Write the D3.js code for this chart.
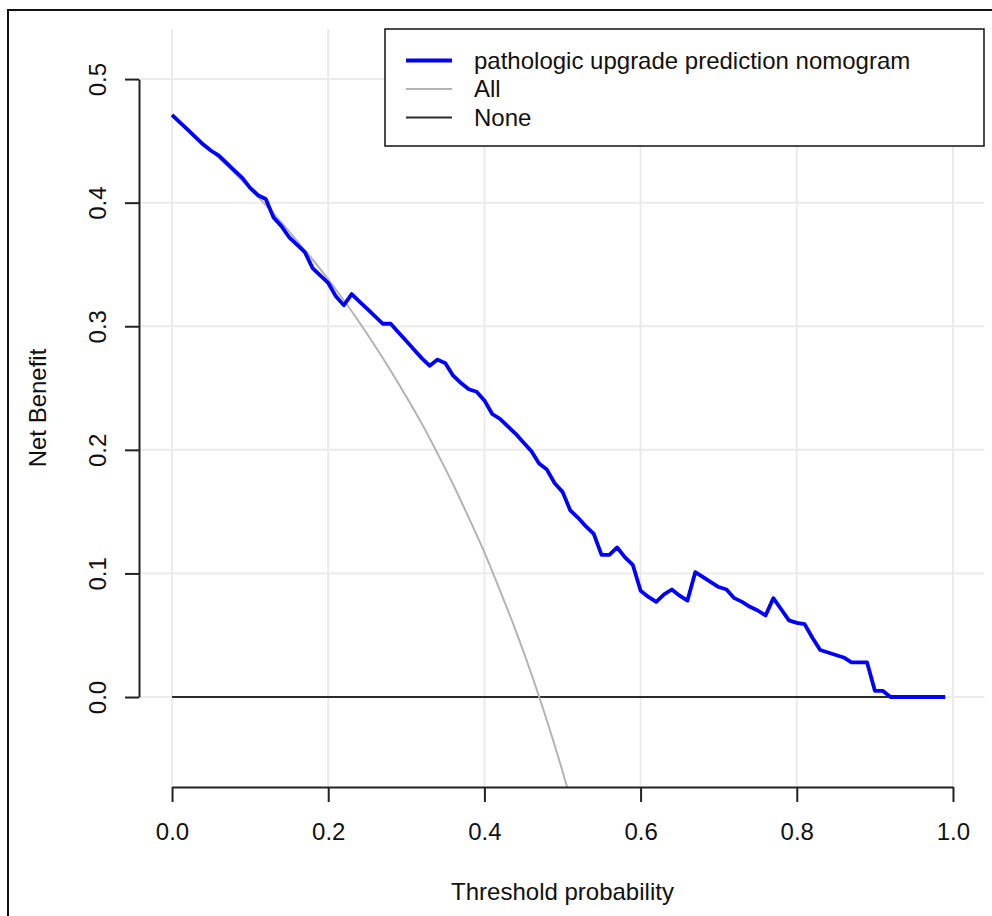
<!DOCTYPE html>
<html lang="en">
<head>
  <meta charset="UTF-8" />
  <title>Decision Curve</title>
  <script src="https://d3js.org/d3.v7.min.js"></script>
  <style>
    body {
      margin: 0;
      padding: 0;
      background: #fff;
    }

    svg text {
      font-family: "Liberation Sans", Arial, sans-serif;
      fill: #111;
    }

    .grid line {
      stroke: #ebebeb;
      stroke-width: 2px;
    }
  </style>
</head>
<body>
  <svg width="992" height="916"></svg>

  <script>
    // threshold probabilities (0.00 .. 0.99)
    const thresholds = [
      0.00, 0.01, 0.02, 0.03, 0.04, 0.05, 0.06, 0.07, 0.08, 0.09,
      0.10, 0.11, 0.12, 0.13, 0.14, 0.15, 0.16, 0.17, 0.18, 0.19,
      0.20, 0.21, 0.22, 0.23, 0.24, 0.25, 0.26, 0.27, 0.28, 0.29,
      0.30, 0.31, 0.32, 0.33, 0.34, 0.35, 0.36, 0.37, 0.38, 0.39,
      0.40, 0.41, 0.42, 0.43, 0.44, 0.45, 0.46, 0.47, 0.48, 0.49,
      0.50, 0.51, 0.52, 0.53, 0.54, 0.55, 0.56, 0.57, 0.58, 0.59,
      0.60, 0.61, 0.62, 0.63, 0.64, 0.65, 0.66, 0.67, 0.68, 0.69,
      0.70, 0.71, 0.72, 0.73, 0.74, 0.75, 0.76, 0.77, 0.78, 0.79,
      0.80, 0.81, 0.82, 0.83, 0.84, 0.85, 0.86, 0.87, 0.88, 0.89,
      0.90, 0.91, 0.92, 0.93, 0.94, 0.95, 0.96, 0.97, 0.98, 0.99
    ];

    // net benefit of the nomogram
    const nomogramNB = [
      0.471, 0.465, 0.459, 0.453, 0.447, 0.442, 0.438, 0.432, 0.426, 0.420,
      0.412, 0.406, 0.403, 0.388, 0.381, 0.372, 0.366, 0.360, 0.347, 0.341,
      0.335, 0.324, 0.317, 0.326, 0.320, 0.314, 0.308, 0.302, 0.302, 0.295,
      0.288, 0.281, 0.274, 0.268, 0.273, 0.270, 0.260, 0.254, 0.249, 0.247,
      0.240, 0.229, 0.225, 0.219, 0.213, 0.206, 0.199, 0.189, 0.184, 0.173,
      0.166, 0.151, 0.145, 0.138, 0.132, 0.115, 0.115, 0.121, 0.113, 0.107,
      0.086, 0.081, 0.077, 0.083, 0.087, 0.082, 0.078, 0.101, 0.097, 0.093,
      0.089, 0.087, 0.080, 0.077, 0.073, 0.070, 0.066, 0.080, 0.071, 0.062,
      0.060, 0.059, 0.048, 0.038, 0.036, 0.034, 0.032, 0.028, 0.028, 0.028,
      0.005, 0.005, 0.000, 0.000, 0.000, 0.000, 0.000, 0.000, 0.000, 0.000
    ];

    // "treat all" curve
    const allThresholds = [
      0.00, 0.02, 0.04, 0.06, 0.08, 0.10, 0.12, 0.14, 0.16, 0.18,
      0.20, 0.22, 0.24, 0.26, 0.28, 0.30, 0.32, 0.34, 0.36, 0.38,
      0.40, 0.42, 0.44, 0.46, 0.48, 0.50, 0.52
    ];
    const allNB = [
      0.470, 0.459, 0.448, 0.436, 0.424, 0.411, 0.398, 0.384, 0.369, 0.354,
      0.338, 0.321, 0.303, 0.284, 0.264, 0.243, 0.221, 0.197, 0.172, 0.145,
      0.117, 0.086, 0.054, 0.019, -0.019, -0.060, -0.104
    ];

    const xTicks = [0, 0.2, 0.4, 0.6, 0.8, 1.0];
    const yTicks = [0, 0.1, 0.2, 0.3, 0.4, 0.5];
    const legendLabels = ["pathologic upgrade prediction nomogram", "All", "None"];
    const legendColors = ["#0000ff", "#b3b3b3", "#2b2b2b"];
    const legendWidths = [3.8, 2, 2];

    const svg = d3.select("svg");

    // plot region (R-style 4% padding around the data range)
    const x = d3.scaleLinear().domain([-0.04, 1.04]).range([140.8, 984.2]);
    const y = d3.scaleLinear().domain([-0.0728, 0.5405]).range([787, 29]);

    // outer frame (open at right / bottom)
    svg.append("rect")
      .attr("x", 8).attr("y", 10)
      .attr("width", 1100).attr("height", 1000)
      .attr("fill", "none")
      .attr("stroke", "#111")
      .attr("stroke-width", 2);

    // grid
    const grid = svg.append("g").attr("class", "grid");
    grid.selectAll("line.v")
      .data(xTicks)
      .join("line")
      .attr("class", "v")
      .attr("x1", d => x(d)).attr("x2", d => x(d))
      .attr("y1", y.range()[1]).attr("y2", y.range()[0]);
    grid.selectAll("line.h")
      .data(yTicks)
      .join("line")
      .attr("class", "h")
      .attr("x1", x.range()[0]).attr("x2", x.range()[1])
      .attr("y1", d => y(d)).attr("y2", d => y(d));

    svg.append("defs").append("clipPath")
      .attr("id", "plotclip")
      .append("rect")
      .attr("x", x.range()[0]).attr("y", y.range()[1])
      .attr("width", x.range()[1] - x.range()[0])
      .attr("height", y.range()[0] - y.range()[1]);

    const plot = svg.append("g").attr("clip-path", "url(#plotclip)");
    const line = d3.line().x(d => x(d[0])).y(d => y(d[1]));

    // None
    plot.append("path")
      .datum([[thresholds[0], 0], [thresholds[thresholds.length - 1], 0]])
      .attr("d", line)
      .attr("fill", "none")
      .attr("stroke", legendColors[2])
      .attr("stroke-width", legendWidths[2]);

    // All
    plot.append("path")
      .datum(allThresholds.map((t, i) => [t, allNB[i]]))
      .attr("d", line.curve(d3.curveMonotoneX))
      .attr("fill", "none")
      .attr("stroke", legendColors[1])
      .attr("stroke-width", legendWidths[1]);

    // nomogram
    plot.append("path")
      .datum(thresholds.map((t, i) => [t, nomogramNB[i]]))
      .attr("d", line.curve(d3.curveLinear))
      .attr("fill", "none")
      .attr("stroke", legendColors[0])
      .attr("stroke-width", legendWidths[0])
      .attr("stroke-linejoin", "round");

    // axes, R style: the axis line runs from first to last tick
    const xAxisScale = x.copy().domain([0, 1]).range([x(0), x(1)]);
    const xAxis = svg.append("g")
      .attr("transform", `translate(0,${y.range()[0]})`)
      .call(d3.axisBottom(xAxisScale)
        .tickValues(xTicks)
        .tickFormat(d3.format(".1f"))
        .tickSize(15)
        .tickSizeOuter(0));
    xAxis.select(".domain").attr("stroke", "#222").attr("stroke-width", 2);
    xAxis.selectAll(".tick line").attr("stroke", "#222").attr("stroke-width", 2);
    xAxis.selectAll(".tick text")
      .attr("y", 53).attr("dy", 0)
      .style("font-size", "24px")
      .style("font-family", "'Liberation Sans', Arial, sans-serif")
      .attr("fill", "#111");

    const yAxisScale = y.copy().domain([0, 0.5]).range([y(0), y(0.5)]);
    const yAxis = svg.append("g")
      .attr("transform", "translate(139,0)")
      .call(d3.axisLeft(yAxisScale)
        .tickValues(yTicks)
        .tickFormat(d3.format(".1f"))
        .tickSize(14)
        .tickSizeOuter(0));
    yAxis.select(".domain").attr("stroke", "#222").attr("stroke-width", 2);
    yAxis.selectAll(".tick line").attr("stroke", "#222").attr("stroke-width", 2);
    yAxis.selectAll(".tick text")
      .attr("transform", "rotate(-90)")
      .attr("x", 0).attr("y", -33).attr("dy", 0)
      .attr("text-anchor", "middle")
      .style("font-size", "24px")
      .style("font-family", "'Liberation Sans', Arial, sans-serif")
      .attr("fill", "#111");

    // axis titles
    svg.append("text")
      .attr("x", (x(0) + x(1)) / 2)
      .attr("y", 900)
      .attr("text-anchor", "middle")
      .style("font-size", "24px")
      .text("Threshold probability");

    svg.append("text")
      .attr("transform", `translate(46,${(y.range()[0] + y.range()[1]) / 2}) rotate(-90)`)
      .attr("text-anchor", "middle")
      .style("font-size", "24px")
      .text("Net Benefit");

    // legend
    const legend = svg.append("g").attr("transform", "translate(385,29)");
    legend.append("rect")
      .attr("width", 599).attr("height", 117)
      .attr("fill", "#fff")
      .attr("stroke", "#111")
      .attr("stroke-width", 1.5);

    const rows = legend.selectAll("g.row")
      .data(legendLabels)
      .join("g")
      .attr("class", "row")
      .attr("transform", (d, i) => `translate(0,${31.5 + i * 28.5})`);
    rows.append("line")
      .attr("x1", 21).attr("x2", 67)
      .attr("stroke", (d, i) => legendColors[i])
      .attr("stroke-width", (d, i) => legendWidths[i]);
    rows.append("text")
      .attr("x", 89)
      .attr("dy", "0.35em")
      .style("font-size", "24px")
      .text(d => d);
  </script>
</body>
</html>
